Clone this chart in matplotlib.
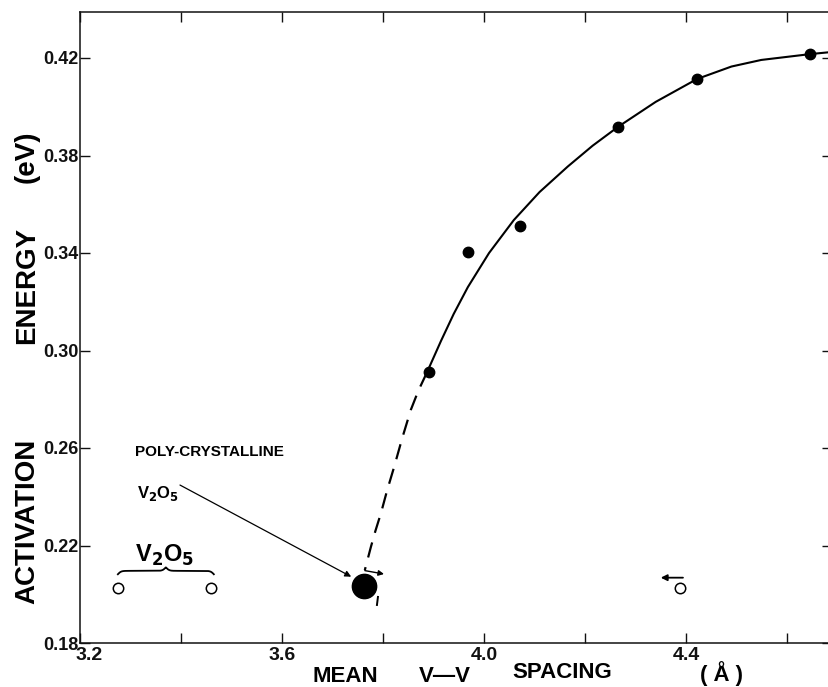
import numpy as np
import matplotlib
matplotlib.use("Agg")
import matplotlib.pyplot as plt
from matplotlib.transforms import ScaledTranslation

plt.rcParams['font.family'] = ['Liberation Sans', 'DejaVu Sans']
plt.rcParams['font.weight'] = 'bold'

# ---- data ----
single_x = [3.891, 3.968, 4.071, 4.265, 4.422, 4.646]
single_y = [0.291, 0.3404, 0.351, 0.3917, 0.4114, 0.4216]

poly_x = [3.762]
poly_y = [0.2034]

open_x = [3.275, 3.459, 4.388]
open_y = [0.2026, 0.2026, 0.2026]

curve_x = [3.887, 3.915, 3.94, 3.968, 4.01, 4.059, 4.11, 4.166, 4.215, 4.265,
           4.34, 4.422, 4.49, 4.549, 4.646, 4.69]
curve_y = [0.291, 0.304, 0.315, 0.326, 0.340, 0.3535, 0.365, 0.3755, 0.384, 0.3917,
           0.402, 0.4114, 0.4165, 0.4192, 0.4216, 0.4225]

dash_x = [3.887, 3.870, 3.855, 3.838, 3.822, 3.808, 3.796, 3.785, 3.776, 3.764]
dash_y = [0.291, 0.2835, 0.2756, 0.264, 0.2522, 0.2425, 0.2333, 0.226, 0.2194, 0.2099]

xticks = [3.2, 3.4, 3.6, 3.8, 4.0, 4.2, 4.4, 4.6]
xticklabels = ['3.2', '', '3.6', '', '4.0', '', '4.4', '']
yticks = [0.18, 0.22, 0.26, 0.30, 0.34, 0.38, 0.42]
yticklabels = ['0.18', '0.22', '0.26', '0.30', '0.34', '0.38', '0.42']

fig = plt.figure(figsize=(8.29, 6.87), dpi=100)
W, H = 829, 687
ax = fig.add_axes([80 / W, (H - 643) / H, 752 / W, 631.5 / H])
ax.set_xlim(3.2, 3.2 + 752 / 505)
ax.set_ylim(0.18, 0.18 + 631.5 / 2437.5)

for s in ax.spines.values():
    s.set_linewidth(1.1)
    s.set_color('#111111')

ax.set_xticks(xticks)
ax.set_xticklabels(xticklabels, fontsize=14, fontweight='bold')
ax.set_yticks(yticks)
ax.set_yticklabels(yticklabels, fontsize=13, fontweight='bold')
ax.tick_params(direction='in', length=7, width=1.0, top=True, right=True,
               pad=3, colors='#111111')
ax.tick_params(axis='y', pad=1)
# shift the first x label a bit right (as in the original)
lab0 = ax.get_xticklabels()[0]
lab0.set_transform(lab0.get_transform() + ScaledTranslation(9 / 100, 0, fig.dpi_scale_trans))

# curves
ax.plot(curve_x, curve_y, color='black', lw=1.5, solid_capstyle='round')
ax.plot(dash_x, dash_y, color='black', lw=1.6, dashes=(7, 4.5))
ax.plot([3.790, 3.788], [0.1989, 0.1956], color='black', lw=1.4)

# points
ax.plot(single_x, single_y, 'o', color='black', ms=7.5, zorder=5)
ax.plot(poly_x, poly_y, 'o', color='black', ms=17.5, zorder=5)
ax.plot(open_x, open_y, 'o', mfc='white', mec='black', mew=1.1, ms=7.5, zorder=5)

# small arrows
ax.annotate('', xy=(3.802, 0.2083), xytext=(3.764, 0.2097),
            arrowprops=dict(arrowstyle='-|>', color='black', lw=1.0,
                            mutation_scale=8, shrinkA=0, shrinkB=0))
ax.annotate('', xy=(4.350, 0.2068), xytext=(4.394, 0.2068),
            arrowprops=dict(arrowstyle='-|>', color='black', lw=1.3,
                            mutation_scale=9, shrinkA=0, shrinkB=0))

# annotations
ax.text(3.309, 0.2584, 'POLY-CRYSTALLINE', fontsize=11, fontweight='bold',
        ha='left', va='center')
ax.text(3.313, 0.2412, r'V$_{\mathbf{2}}$O$_{\mathbf{5}}$', fontsize=12, fontweight='bold',
        ha='left', va='center')
ax.annotate('', xy=(3.737, 0.2072), xytext=(3.398, 0.2448),
            arrowprops=dict(arrowstyle='-|>', color='black', lw=0.9,
                            mutation_scale=9, shrinkA=0, shrinkB=0))
ax.text(3.367, 0.2161, r'V$_{\mathbf{2}}$O$_{\mathbf{5}}$', fontsize=17, fontweight='bold',
        ha='center', va='center')

# curly brace over the two open circles
x0, x1 = open_x[0], open_x[1] + 0.006
n = 200
t = np.linspace(0, 0.5, n)
beta = 60.0
yh = 1 / (1 + np.exp(-beta * (t - t[0]))) + 1 / (1 + np.exp(-beta * (t - t[-1])))
yb = np.concatenate([yh, yh[::-1]])
xb = np.linspace(x0, x1, 2 * n)
yb = 0.2082 + (yb - yb.min()) / (yb.max() - yb.min()) * 0.0028
ax.plot(xb, yb, color='black', lw=1.3)

# axis label pieces
fig.text(345 / W, 1 - 676 / H, 'MEAN', fontsize=16, fontweight='bold', ha='center', va='center')
fig.text(445 / W, 1 - 676 / H, 'V\u2014V', fontsize=16, fontweight='bold', ha='center', va='center')
fig.text(562 / W, 1 - 673 / H, 'SPACING', fontsize=16, fontweight='bold', ha='center', va='center')
fig.text(722 / W, 1 - 674 / H, '( \u00c5 )', fontsize=16, fontweight='bold', ha='center', va='center')

fig.text(27 / W, 1 - 521 / H, 'ACTIVATION', fontsize=20, fontweight='bold',
         rotation=90, ha='center', va='center')
fig.text(27 / W, 1 - 285 / H, 'ENERGY', fontsize=20, fontweight='bold',
         rotation=90, ha='center', va='center')
fig.text(27 / W, 1 - 157 / H, '(eV)', fontsize=20, fontweight='bold',
         rotation=90, ha='center', va='center')

fig.savefig('out.png', dpi=100, facecolor='white')
